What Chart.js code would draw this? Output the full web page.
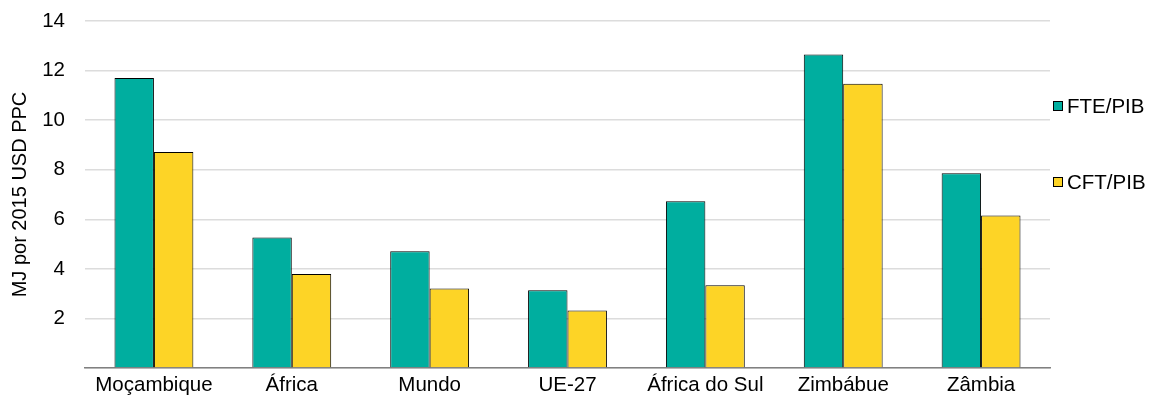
<!DOCTYPE html>
<html>
<head>
<meta charset="utf-8">
<script src="https://cdn.jsdelivr.net/npm/chart.js@4.4.1/dist/chart.umd.min.js"></script>
<style>
  html, body { margin: 0; padding: 0; background: #ffffff; }
  #wrap { width: 1150px; height: 396px; position: relative; }
</style>
</head>
<body>
<div id="wrap"><canvas id="chart" width="1150" height="396"></canvas></div>
<script>
// Energy intensity by region (MJ per 2015 USD PPP)
const categories = ['Moçambique', 'África', 'Mundo', 'UE-27', 'África do Sul', 'Zimbábue', 'Zâmbia'];
const ftePib = [11.70, 5.27, 4.71, 3.14, 6.73, 12.65, 7.86];
const cftPib = [8.71, 3.79, 3.21, 2.32, 3.34, 11.47, 6.15];
const seriesNames = ['FTE/PIB', 'CFT/PIB'];
const yTicks = [2, 4, 6, 8, 10, 12, 14];

const FONT = 'Liberation Sans, Arial, sans-serif';
const FONT_SIZE = 20.5;
const TEAL = '#00ae9f';
const YELLOW = '#fdd426';

// Legend drawn at the right of the plot, one entry per dataset
const sideLegend = {
  id: 'sideLegend',
  afterDraw(chart) {
    const ctx = chart.ctx;
    const rows = [106, 182];
    ctx.save();
    ctx.font = FONT_SIZE + 'px ' + FONT;
    ctx.textBaseline = 'middle';
    ctx.textAlign = 'left';
    chart.data.datasets.forEach((ds, i) => {
      const y = rows[i];
      ctx.fillStyle = ds.backgroundColor;
      ctx.fillRect(1053, y - 5, 10, 10);
      ctx.strokeStyle = '#000000';
      ctx.lineWidth = 1;
      ctx.strokeRect(1053.5, y - 4.5, 9, 9);
      ctx.fillStyle = '#000000';
      ctx.fillText(ds.label, 1067, y + 1);
    });
    ctx.restore();
  }
};

new Chart(document.getElementById('chart'), {
  type: 'bar',
  data: {
    labels: categories,
    datasets: [
      { label: seriesNames[0], data: ftePib, backgroundColor: TEAL, borderColor: '#000000', borderWidth: 1 },
      { label: seriesNames[1], data: cftPib, backgroundColor: YELLOW, borderColor: '#000000', borderWidth: 1 }
    ]
  },
  options: {
    responsive: false,
    animation: false,
    events: [],
    layout: { padding: { top: 21, right: 100, left: 0, bottom: 0 } },
    datasets: { bar: { categoryPercentage: 0.572, barPercentage: 1.0 } },
    plugins: {
      legend: { display: false },
      tooltip: { enabled: false }
    },
    scales: {
      x: {
        grid: { display: false, drawTicks: false },
        border: { display: true, color: '#808080', width: 1.5 },
        ticks: { color: '#000000', font: { family: FONT, size: FONT_SIZE }, padding: 5, maxRotation: 0, autoSkip: false },
        afterFit(scale) {
          scale.height = 28;
          scale.paddingLeft = 0;
          scale.paddingRight = 0;
        }
      },
      y: {
        min: 0,
        max: 14,
        afterBuildTicks(scale) { scale.ticks = [0].concat(yTicks).map(v => ({ value: v })); },
        grid: { color: '#dcdcdc', lineWidth: 1.5, drawTicks: false },
        border: { display: false },
        ticks: {
          color: '#000000',
          font: { family: FONT, size: FONT_SIZE },
          padding: 20,
          callback: v => (v === 0 ? '' : String(v))
        },
        title: {
          display: true,
          text: 'MJ por 2015 USD PPC',
          color: '#000000',
          font: { family: FONT, size: 20 },
          padding: { top: 8, bottom: 0 }
        },
        afterFit(scale) {
          scale.width = 85;
          scale.paddingTop = 0;
          scale.paddingBottom = 0;
        }
      }
    }
  },
  plugins: [sideLegend]
});
</script>
</body>
</html>
